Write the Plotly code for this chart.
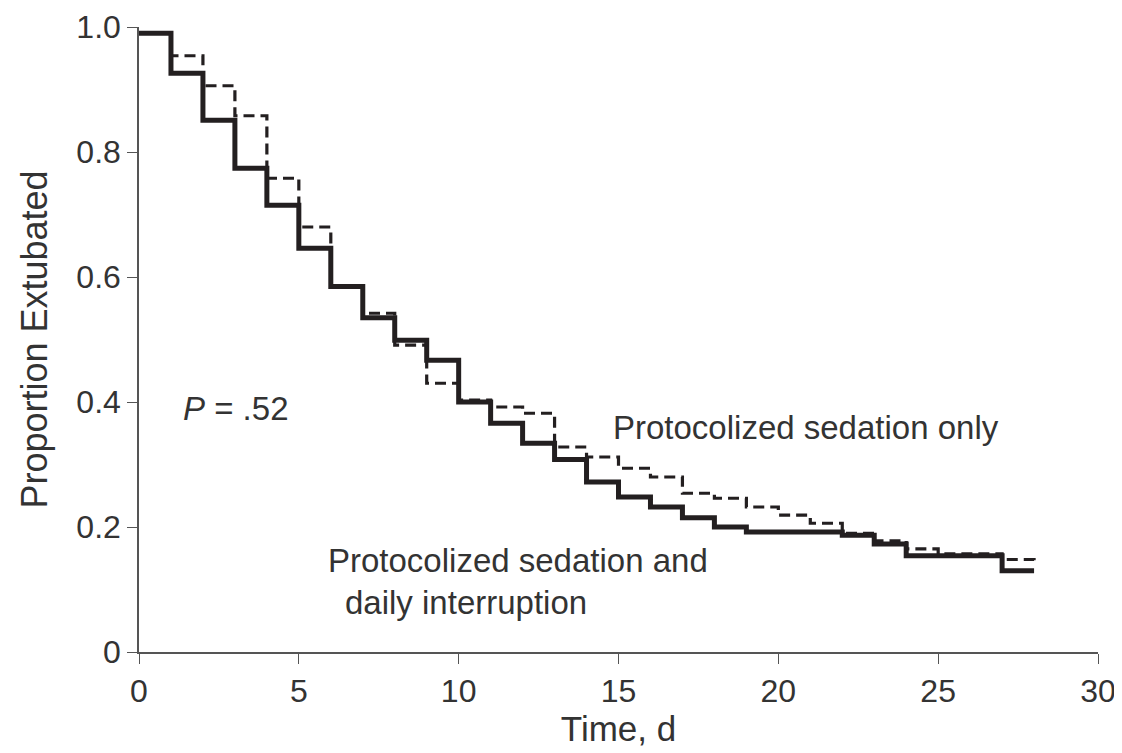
import plotly.graph_objects as go

days = list(range(0, 29))
interruption = [0.99, 0.926, 0.851, 0.774, 0.715, 0.646, 0.585, 0.535, 0.499, 0.467,
                0.400, 0.366, 0.334, 0.308, 0.272, 0.248, 0.232, 0.215, 0.200, 0.192,
                0.192, 0.192, 0.187, 0.173, 0.154, 0.154, 0.154, 0.130, 0.130]
sedation_only = [0.99, 0.954, 0.906, 0.858, 0.758, 0.680, 0.585, 0.542, 0.491, 0.430,
                 0.403, 0.392, 0.382, 0.328, 0.312, 0.294, 0.280, 0.254, 0.246, 0.232,
                 0.219, 0.206, 0.190, 0.178, 0.165, 0.157, 0.157, 0.148, 0.145]
x_ticks = [0, 5, 10, 15, 20, 25, 30]
y_ticks = [0, 0.2, 0.4, 0.6, 0.8, 1.0]
y_tick_labels = ["0", "0.2", "0.4", "0.6", "0.8", "1.0"]

ink = "#231f20"
txt = "#333333"
font = "Liberation Sans, Arial, sans-serif"

fig = go.Figure()
fig.add_trace(go.Scatter(x=days, y=sedation_only, mode="lines", line_shape="hv",
                         line=dict(color=ink, width=3.2, dash="11px,6px"),
                         name="Protocolized sedation only", cliponaxis=False))
fig.add_trace(go.Scatter(x=days, y=interruption, mode="lines", line_shape="hv",
                         line=dict(color=ink, width=5),
                         name="Protocolized sedation and daily interruption", cliponaxis=False))

annotations = [
    dict(x=1.31, y=0.39, text="<i>P</i> = .52", xanchor="left", yanchor="middle"),
    dict(x=14.78, y=0.36, text="Protocolized sedation only", xanchor="left", yanchor="middle"),
    dict(x=5.84, y=0.147, text="Protocolized sedation and", xanchor="left", yanchor="middle"),
    dict(x=6.375, y=0.08, text="daily interruption", xanchor="left", yanchor="middle"),
]
for a in annotations:
    a.update(xref="x", yref="y", showarrow=False, font=dict(family=font, size=33, color=txt))

fig.update_layout(
    width=1114, height=745,
    margin=dict(l=131, r=24, t=19, b=101, autoexpand=False),
    paper_bgcolor="white", plot_bgcolor="white",
    showlegend=False,
    font=dict(family=font, color=txt),
    annotations=annotations,
    xaxis=dict(range=[0, 30], tickvals=x_ticks, ticks="outside", ticklen=10, tickwidth=1.2,
               tickcolor="#555555", showline=True, linecolor="#555555", linewidth=1.5,
               showgrid=False, zeroline=False, tickfont=dict(size=32, color=txt),
               title=dict(text="Time, d", font=dict(size=35, color=txt), standoff=4)),
    yaxis=dict(range=[0, 1.0], tickvals=y_ticks, ticktext=y_tick_labels, ticks="outside",
               ticklen=10, tickwidth=1.2, tickcolor="#555555", showline=True,
               linecolor="#555555", linewidth=1.5, showgrid=False, zeroline=False,
               tickfont=dict(size=32, color=txt),
               title=dict(text="Proportion Extubated", font=dict(size=36, color=txt), standoff=18)),
)

fig.write_html("out.html")
